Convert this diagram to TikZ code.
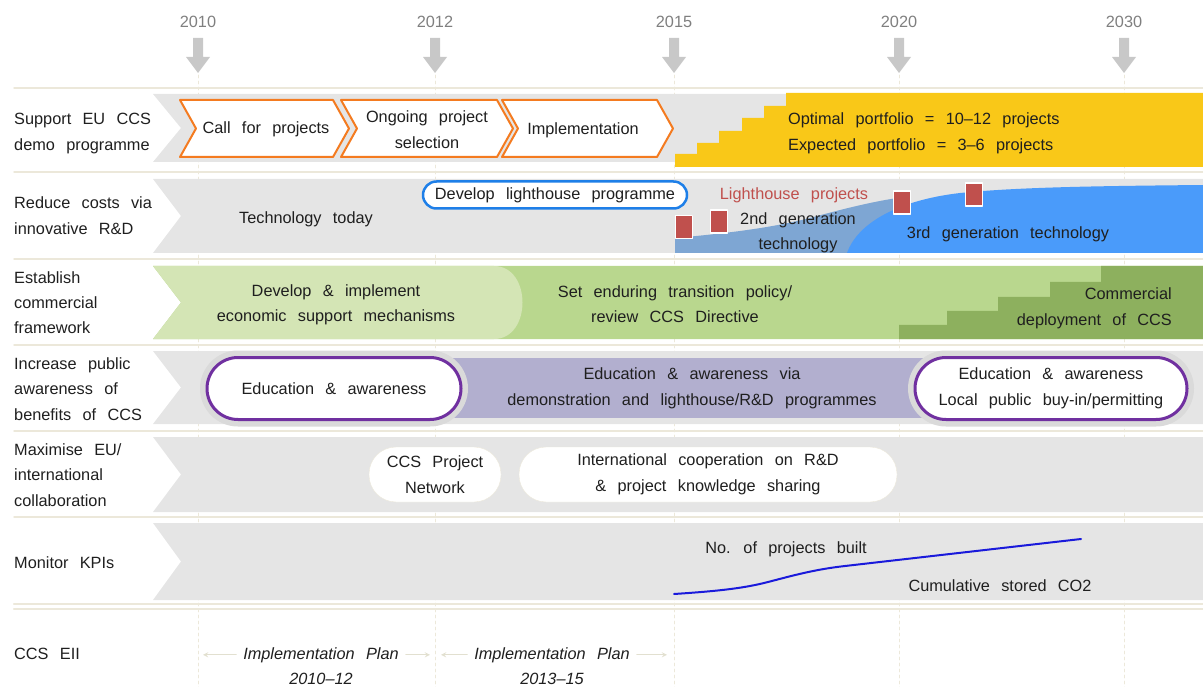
\documentclass[tikz,border=0pt]{standalone}
\usepackage{fontspec}
\setmainfont[WordSpace=2.5]{Liberation Sans}
\definecolor{bandgray}{HTML}{E5E5E5}
\definecolor{halogray}{HTML}{DADADA}
\definecolor{rulebeige}{HTML}{ECE8DA}
\definecolor{yeargray}{HTML}{7F7F7F}
\definecolor{arrowgray}{HTML}{C8C8C8}
\definecolor{ccsorange}{HTML}{F47B20}
\definecolor{ccsyellow}{HTML}{F9C818}
\definecolor{lhblue}{HTML}{1E7FE8}
\definecolor{lhred}{HTML}{C0504D}
\definecolor{gentwo}{HTML}{7EA6D3}
\definecolor{genthree}{HTML}{4A9BFA}
\definecolor{greenlight}{HTML}{D4E5B5}
\definecolor{greenmid}{HTML}{B9D78E}
\definecolor{greendark}{HTML}{8DB05E}
\definecolor{lavender}{HTML}{B2AFCF}
\definecolor{edupurple}{HTML}{7030A0}
\definecolor{kpiblue}{HTML}{1A1ADB}
\definecolor{inktext}{HTML}{1F1F1F}
\definecolor{planbeige}{HTML}{E2E0D0}
\begin{document}
\begin{tikzpicture}[x=1pt,y=-1pt,>=stealth, line join=round, line cap=round,
    font=\fontsize{16.3}{25.5}\selectfont, text=inktext,
    every node/.style={inner sep=0pt},
    lbl/.style={anchor=base west, align=left},
    txt/.style={anchor=base, align=center},
    yearlbl/.style={anchor=base, text=yeargray},
    band/.style={fill=bandgray},
    stepbox/.style={draw=ccsorange, line width=2pt, fill=white},
    edupill/.style={draw=edupurple, line width=3pt, fill=white, rounded corners=31pt,
      minimum height=62pt, align=center, preaction={draw=halogray, line width=14pt}},
    whitepill/.style={draw=rulebeige, fill=white, rounded corners=27pt, minimum height=55pt, align=center},
    lhsquare/.style={fill=lhred, draw=white, line width=1.2pt, minimum width=17pt, minimum height=23pt},
    planlbl/.style={anchor=base, font=\fontsize{16.3}{25.5}\selectfont\itshape, inner xsep=7pt},
    planarrow/.style={->, draw=planbeige, line width=1.3pt}]
  \useasboundingbox (0,0) rectangle (1203,687);
  \foreach \x/\yr in {198/2010,435/2012,674/2015,899/2020,1124/2030}{
    \draw[rulebeige, dashed, line width=0.8pt] (\x,75) -- (\x,687);
    \fill[arrowgray] (\x-5,38) -- (\x+5,38) -- (\x+5,57) -- (\x+12,57) -- (\x,73) -- (\x-12,57) -- (\x-5,57) -- cycle;
    \node[yearlbl] (y\yr) at (\x,28) {\yr};
  }
  \foreach \t/\b in {94/162,179/253,351/424,437/512,523/600}
    \fill[band] (153,\t) -- (1203,\t) -- (1203,\b) -- (153,\b) -- (181,{(\t+\b)/2}) -- cycle;
  \foreach \y in {88,172,259,345,431,517}
    \draw[rulebeige, line width=1.5pt] (14,\y) -- (1203,\y);
  \foreach \y in {604,609}
    \draw[rulebeige, line width=2.5pt] (14,\y) -- (1203,\y);

  \node[lbl] (row1) at (14,150.5) {Support EU CCS\\demo programme};
  \node[lbl] (row2) at (14,234.5) {Reduce costs via\\innovative R\&D};
  \node[lbl] (row3) at (14,334) {Establish\\commercial\\framework};
  \node[lbl] (row4) at (14,420) {Increase public\\awareness of\\benefits of CCS};
  \node[lbl] (row5) at (14,506) {Maximise EU/\\international\\collaboration};
  \node[lbl] (row6) at (14,568) {Monitor KPIs};
  \node[lbl] (eii) at (14,659) {CCS EII};

  \foreach \l/\r in {180/333,341/497,502/657}
    \draw[stepbox] (\l,100) -- (\r,100) -- (\r+16,128.5) -- (\r,157) -- (\l,157) -- (\l+16,128.5) -- cycle;
  \fill[ccsyellow] (675,167) -- (675,154) -- (697,154) -- (697,143) -- (719,143) -- (719,131) -- (742,131)
    -- (742,118) -- (764,118) -- (764,106) -- (786,106) -- (786,93) -- (1203,93) -- (1203,167) -- cycle;
  \node[txt] (call) at (266,134) {Call for projects};
  \node[txt] (ongoing) at (427,148.5) {Ongoing project\\selection};
  \node[txt] (impl) at (583,135) {Implementation};
  \node[lbl] (portfolio) at (788,150.5) {Optimal portfolio = 10--12 projects\\Expected portfolio = 3--6 projects};

  \fill[gentwo] (675,253) -- (675,238) .. controls (730,233) and (770,228) .. (810,218)
    .. controls (850,207) and (880,200) .. (905,197) -- (905,253) -- cycle;
  \fill[genthree] (847,253) .. controls (858,222) and (900,200) .. (960,193)
    .. controls (1020,187) and (1100,186) .. (1203,185) -- (1203,253) -- cycle;
  \foreach \x/\y [count=\i] in {684/227,719/221.5,902/202.5,974/194.5}
    \node[lhsquare] (lh\i) at (\x,\y) {};
  \node[txt] (today) at (306,224) {Technology today};
  \node[draw=lhblue, line width=2.5pt, fill=white, rounded corners=13.5pt, minimum width=264pt,
    minimum height=27pt] (lhprog) at (555,195) {Develop lighthouse programme};
  \node[txt, text=lhred] (lhproj) at (794,200) {Lighthouse projects};
  \node[txt] (gen2) at (798,250) {2nd generation\\technology};
  \node[txt] (gen3) at (1008,239) {3rd generation technology};

  \fill[greenmid] (153,266) -- (1203,266) -- (1203,339) -- (153,339) -- (181,302.5) -- cycle;
  \fill[greenlight] (153,266) -- (494,266) .. controls (532,266) and (532,339) .. (494,339)
    -- (153,339) -- (181,302.5) -- cycle;
  \fill[greendark] (899,339) -- (899,325) -- (947,325) -- (947,311) -- (998,311) -- (998,297)
    -- (1050,297) -- (1050,282) -- (1101,282) -- (1101,266) -- (1203,266) -- (1203,339) -- cycle;
  \node[txt] (econ) at (336,322) {Develop \& implement\\economic support mechanisms};
  \node[txt] (policy) at (675,323) {Set enduring transition policy/\\review CCS Directive};
  \node[anchor=base east, align=right] (deploy) at (1172,325) {Commercial\\deployment of CCS};

  \fill[lavender] (450,358) rectangle (930,418);
  \node[edupill, minimum width=254pt] (edu1) at (334,388.5) {Education \& awareness};
  \node[edupill, minimum width=272pt] (edu2) at (1051,388.5) {Education \& awareness\\Local public buy-in/permitting};
  \node[txt] (eduvia) at (692,405) {Education \& awareness via\\demonstration and lighthouse/R\&D programmes};

  \node[whitepill, minimum width=132pt] (network) at (435,474.5) {CCS Project\\Network};
  \node[whitepill, minimum width=378pt] (coop) at (708,474.5) {International cooperation on R\&D\\\& project knowledge sharing};

  \draw[kpiblue, line width=2pt] (674,594) .. controls (720,591) and (745,588) .. (768,582)
    .. controls (795,575) and (815,569.4) .. (845,566) -- (1081,539);
  \node[txt] (built) at (786,553) {No. of projects built};
  \node[txt] (stored) at (1000,591) {Cumulative stored CO2};

  \node[planlbl] (plan1) at (321,659) {Implementation Plan};
  \node[planlbl] (per1) at (321,684) {2010--12};
  \node[planlbl] (plan2) at (552,659) {Implementation Plan};
  \node[planlbl] (per2) at (552,684) {2013--15};
  \coordinate (p1l) at (203,0);
  \coordinate (p1r) at (430,0);
  \coordinate (p2l) at (441,0);
  \coordinate (p2r) at (667,0);
  \draw[planarrow] (plan1.west) -- (plan1.west -| p1l);
  \draw[planarrow] (plan1.east) -- (plan1.east -| p1r);
  \draw[planarrow] (plan2.west) -- (plan2.west -| p2l);
  \draw[planarrow] (plan2.east) -- (plan2.east -| p2r);
\end{tikzpicture}
\end{document}
